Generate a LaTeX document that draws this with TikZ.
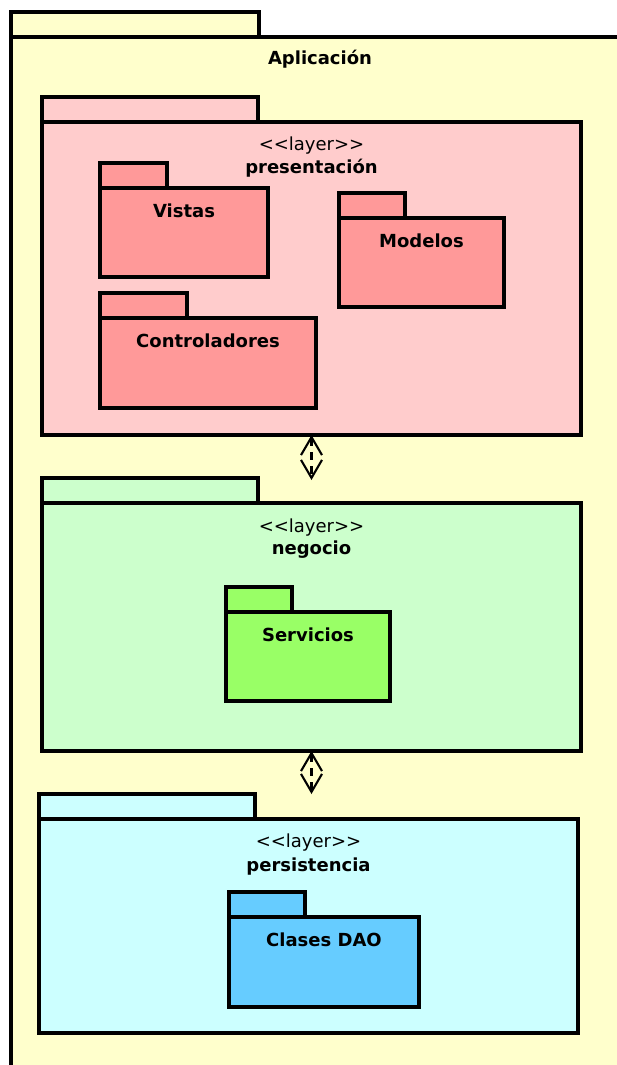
\documentclass[tikz,border=0pt]{standalone}
\usepackage{fontspec}
\setmainfont{DejaVu Sans}
\usetikzlibrary{arrows.meta}

\definecolor{appfill}{HTML}{FFFFCC}
\definecolor{presfill}{HTML}{FFCCCC}
\definecolor{presitem}{HTML}{FF9999}
\definecolor{negfill}{HTML}{CCFFCC}
\definecolor{negitem}{HTML}{99FF66}
\definecolor{perfill}{HTML}{CCFFFF}
\definecolor{peritem}{HTML}{66CCFF}

\tikzset{
  pkgbody/.style={draw=black, line width=3.2pt, rectangle, inner sep=0pt, outer sep=0pt, anchor=north west},
  pkgtab/.style={draw=black, line width=3.2pt, rectangle, inner sep=0pt, outer sep=0pt, anchor=south west, minimum height=25pt},
  pkgname/.style={font=\fontsize{18}{22}\selectfont\bfseries, anchor=base, inner sep=0pt},
  stereo/.style={font=\fontsize{18}{22}\selectfont, anchor=base, inner sep=0pt},
  dep/.style={line width=2.1pt, dash pattern=on 8pt off 6pt,
    {Straight Barb[length=18pt,width=21pt]}-{Straight Barb[length=18pt,width=21pt]}}
}

\begin{document}
\begin{tikzpicture}[x=1pt, y=-1pt]
\clip (0,0) rectangle (617,1065);

% outer package
\node[pkgbody, fill=appfill, minimum width=618pt, minimum height=1100pt] (app) at (11,37) {};
\node[pkgtab, fill=appfill, minimum width=248pt] (apptab) at (app.north west) {};
\path (app.north west) ++(309,28) node[pkgname] (appname) {Aplicación};

% presentation layer
\node[pkgbody, fill=presfill, minimum width=539pt, minimum height=313pt] (pres) at (42,122) {};
\node[pkgtab, fill=presfill, minimum width=216pt] (prestab) at (pres.north west) {};
\path (pres.north) ++(0,28) node[stereo] (presst) {<{}<layer>{}>};
\path (pres.north) ++(0,51) node[pkgname] (presname) {presentación};

\node[pkgbody, fill=presitem, minimum width=168pt, minimum height=89pt] (vistas) at (100,188) {};
\node[pkgtab, fill=presitem, minimum width=67pt] (vistastab) at (vistas.north west) {};
\path (vistas.north) ++(0,29) node[pkgname] (vistasname) {Vistas};

\node[pkgbody, fill=presitem, minimum width=165pt, minimum height=89pt] (modelos) at (339,218) {};
\node[pkgtab, fill=presitem, minimum width=66pt] (modelostab) at (modelos.north west) {};
\path (modelos.north) ++(0,29) node[pkgname] (modelosname) {Modelos};

\node[pkgbody, fill=presitem, minimum width=216pt, minimum height=90pt] (ctrl) at (100,318) {};
\node[pkgtab, fill=presitem, minimum width=87pt] (ctrltab) at (ctrl.north west) {};
\path (ctrl.north) ++(0,29) node[pkgname] (ctrlname) {Controladores};

% business layer
\node[pkgbody, fill=negfill, minimum width=539pt, minimum height=248pt] (neg) at (42,503) {};
\node[pkgtab, fill=negfill, minimum width=216pt] (negtab) at (neg.north west) {};
\path (neg.north) ++(0,29) node[stereo] (negst) {<{}<layer>{}>};
\path (neg.north) ++(0,51) node[pkgname] (negname) {negocio};

\node[pkgbody, fill=negitem, minimum width=164pt, minimum height=89pt] (serv) at (226,612) {};
\node[pkgtab, fill=negitem, minimum width=66pt] (servtab) at (serv.north west) {};
\path (serv.north) ++(0,29) node[pkgname] (servname) {Servicios};

% persistence layer
\node[pkgbody, fill=perfill, minimum width=539pt, minimum height=214pt] (per) at (39,819) {};
\node[pkgtab, fill=perfill, minimum width=216pt] (pertab) at (per.north west) {};
\path (per.north) ++(0,28) node[stereo] (perst) {<{}<layer>{}>};
\path (per.north) ++(0,52) node[pkgname] (pername) {persistencia};

\node[pkgbody, fill=peritem, minimum width=190pt, minimum height=90pt] (dao) at (229,917) {};
\node[pkgtab, fill=peritem, minimum width=76pt] (daotab) at (dao.north west) {};
\path (dao.north) ++(0,29) node[pkgname] (daoname) {Clases DAO};

% dependencies between layers
\coordinate (d1) at ([yshift=-45pt]pres.south);
\draw[dep] (pres.south) -- (d1);
\coordinate (d2) at ([yshift=-43pt]neg.south);
\draw[dep] (neg.south) -- (d2);
\end{tikzpicture}
\end{document}
